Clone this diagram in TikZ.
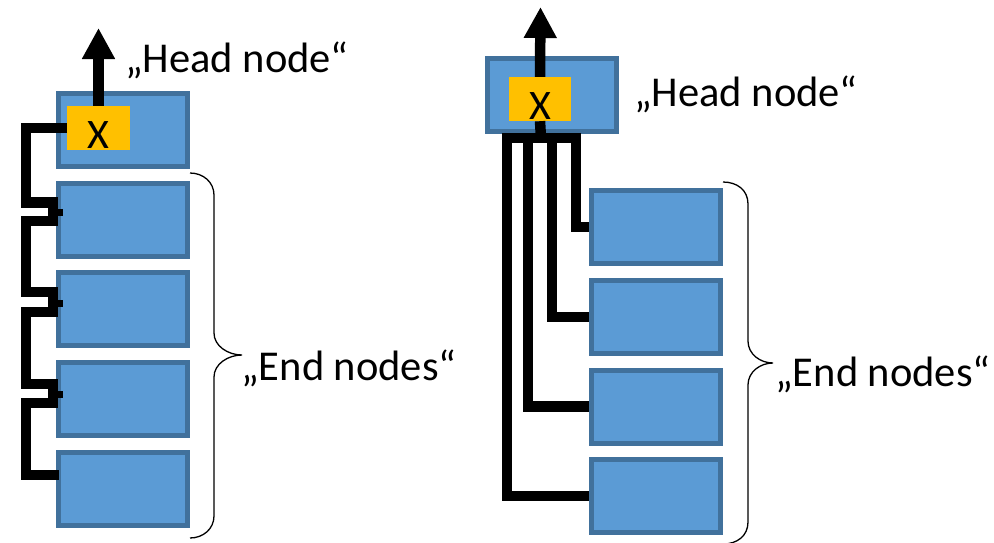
\documentclass[tikz,border=0pt]{standalone}
\usepackage{fontspec}
\setmainfont{Carlito}
\usetikzlibrary{arrows.meta}
\definecolor{boxfill}{HTML}{5B9BD5}
\definecolor{boxline}{HTML}{41719C}
\definecolor{xfill}{HTML}{FFC000}
\tikzset{
  nodebox/.style={draw=boxline, fill=boxfill, line width=5pt, minimum width=128.5pt, minimum height=73pt, inner sep=0pt},
  xbox/.style={fill=xfill, minimum width=62.5pt, minimum height=44pt, inner sep=0pt, text height=40.6pt, text depth=0pt, font=\fontsize{42}{50}\selectfont},
  wire/.style={draw=black, line width=10.5pt, line join=miter},
  nub/.style={draw=black, line width=7pt},
  uparrow/.style={draw=black, line width=10.5pt, -{Triangle[length=31pt, width=31pt]}},
  brace/.style={draw=black, line width=1.3pt},
  lbl/.style={anchor=base west, inner sep=0pt, font=\fontsize{42.5}{51}\selectfont}
}
\begin{document}
\begin{tikzpicture}[x=1pt, y=-1pt]
\useasboundingbox (0,0) rectangle (994,542);
% ---------- left panel ----------
\node[nodebox] (lh) at (123,130) {};
\node[nodebox] (l2) at (123,220) {};
\node[nodebox] (l3) at (123,309) {};
\node[nodebox] (l4) at (123,399) {};
\node[nodebox] (l5) at (123,489) {};
\node[xbox] (yl) at (98.5,128) {X};
\coordinate (tipL) at (98.5,28);
\coordinate (l5in) at (58.75,475);
\draw[uparrow] (yl.north) -- (tipL);
\draw[wire] (yl.west) -- (26,128) -- (26,202.5) -- (53,202.5) -- (53,221) -- (26,221)
  -- (26,292) -- (53,292) -- (53,312) -- (26,312)
  -- (26,384) -- (53,384) -- (53,403) -- (26,403)
  -- (26,475) -- (l5in);
\coordinate (n2) at (63,212.5);
\coordinate (n3) at (63,303);
\coordinate (n4) at (63,394);
\draw[nub] (53,212.5) -- (n2);
\draw[nub] (53,303) -- (n3);
\draw[nub] (53,394) -- (n4);
\node[lbl] (lhead) at (125,72.7) {„Head node“};
\draw[brace] (190,173) .. controls (203,173) and (214,182) .. (214,195) -- (214,333)
  .. controls (214,346) and (228,355) .. (242,355)
  .. controls (228,355) and (214,364) .. (214,377) -- (214,516)
  .. controls (214,529) and (203,538) .. (190,538);
\node[lbl] (lend) at (241,380) {„End nodes“};
% ---------- right panel ----------
\node[nodebox] (rh) at (552,95) {};
\node[nodebox] (r1) at (656,227) {};
\node[nodebox] (r2) at (656,317) {};
\node[nodebox] (r3) at (656,406.5) {};
\node[nodebox] (r4) at (656,496) {};
\node[xbox] (yr) at (540,99) {X};
\coordinate (tipR) at (540.5,7);
\coordinate (bar) at (541,138);
\draw[uparrow] (yr.north) -- (tipR);
\draw[wire] (yr.south) -- (bar);
\draw[wire] (r1.west) -| (576,138) -- (507,138) |- (r4.west);
\draw[wire] (r2.west) -| (552,138);
\draw[wire] (r3.west) -| (528,138);
\node[lbl] (rhead) at (634,106.5) {„Head node“};
\draw[brace] (723,182) .. controls (737,182) and (748,190) .. (748,204) -- (748,341)
  .. controls (748,354) and (760,363) .. (773,363)
  .. controls (760,363) and (748,372) .. (748,385) -- (748,522)
  .. controls (748,536) and (737,544) .. (723,544);
\node[lbl] (rend) at (775,386.5) {„End nodes“};
\end{tikzpicture}
\end{document}
